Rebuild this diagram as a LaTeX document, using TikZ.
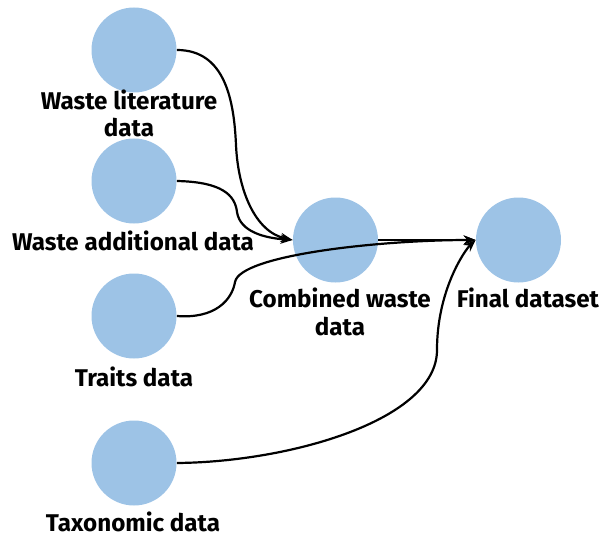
\documentclass[tikz,border=0pt]{standalone}
\usepackage{fontspec}
\setmainfont{Fira Sans}
\usetikzlibrary{arrows.meta}
\definecolor{bub}{RGB}{157,195,230}
\begin{document}
\begin{tikzpicture}[x=0.5pt,y=-0.5pt,
  bubble/.style={circle,fill=bub,minimum size=42.5pt,inner sep=0pt},
  lab/.style={anchor=base,align=center,inner sep=0pt,font=\bfseries\fontsize{12.1}{13.5}\selectfont},
  conn/.style={line width=1.1pt,-{Stealth[length=6pt,width=4.6pt]}}]
\useasboundingbox (0,0) rectangle (600,535);
\node[bubble] (lit) at (134,50) {};
\node[bubble] (add) at (134,181) {};
\node[bubble] (tra) at (134,316) {};
\node[bubble] (tax) at (134,463) {};
\node[bubble] (comb) at (335.5,240) {};
\node[bubble] (fin) at (518.5,240) {};
\node[lab] (litl) at (129,137) {Waste literature\\data};
\node[lab] (addl) at (133,250) {Waste additional data};
\node[lab] (combl) at (340,335) {Combined waste\\data};
\node[lab] (finl) at (528,307) {Final dataset};
\node[lab] (tral) at (134,386) {Traits data};
\node[lab] (taxl) at (133,531) {Taxonomic data};
\draw[conn] (lit.east) .. controls (225,50) and (234,100) .. (236,145) .. controls (238,190) and (255,232) .. (comb.west);
\draw[conn] (add.east) .. controls (222,182) and (235,195) .. (237,212) .. controls (240,232) and (265,238) .. (comb.west);
\draw[conn] (comb.east) -- (fin.west);
\draw[conn] (tra.east) .. controls (215,319) and (232,300) .. (235,282) .. controls (240,255) and (380,240) .. (fin.west);
\draw[conn] (tax.east) .. controls (290,462) and (437,420) .. (437,350) .. controls (437,290) and (465,250) .. (fin.west);
\end{tikzpicture}
\end{document}
